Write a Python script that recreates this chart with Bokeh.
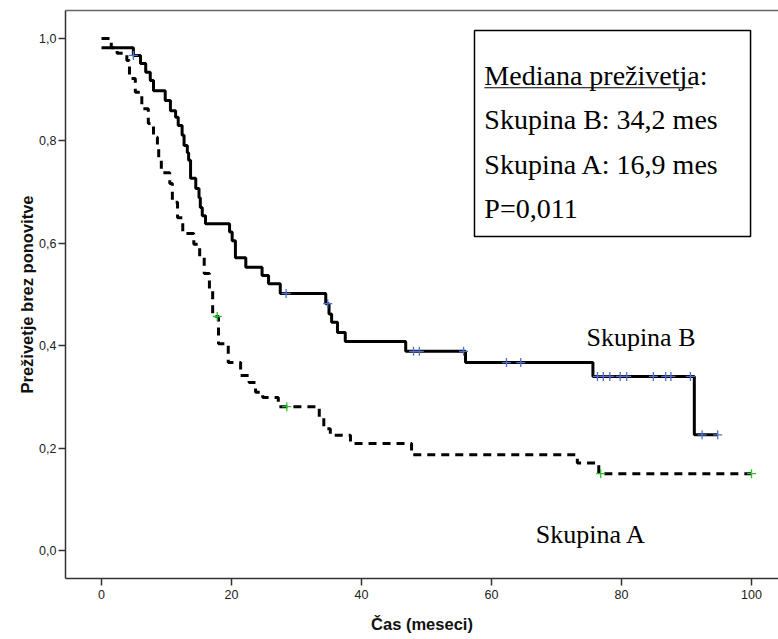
from bokeh.plotting import figure
from bokeh.models import (Range1d, FixedTicker, Label, BoxAnnotation, ColumnDataSource,
                          LinearAxis)
from bokeh.embed import file_html
from bokeh.resources import INLINE

# ---- data ----
# Skupina B (solid): event times (months) and survival after each step
b_time = [0, 4.9, 6.0, 6.8, 7.5, 8.0, 9.8, 10.6, 11.4, 11.8, 12.4, 12.7, 13.2, 13.4,
          13.7, 14.5, 15.0, 15.2, 15.5, 16.0, 19.7, 20.1, 20.6, 22.2, 24.7, 25.7,
          27.5, 34.5, 35.0, 35.4, 36.3, 37.5, 46.8, 56.0, 75.6, 91.2, 94.8]
b_surv = [0.982, 0.967, 0.951, 0.934, 0.918, 0.898, 0.879, 0.859, 0.846, 0.830, 0.811,
          0.791, 0.777, 0.762, 0.727, 0.707, 0.689, 0.670, 0.654, 0.638, 0.622, 0.605,
          0.572, 0.553, 0.537, 0.521, 0.502, 0.482, 0.462, 0.446, 0.426, 0.408, 0.389,
          0.367, 0.340, 0.226, 0.226]
b_cens_time = [4.9, 28.4, 34.8, 48.0, 48.9, 55.7, 62.3, 64.5, 76.3, 77.2, 78.2, 79.8,
               80.8, 84.9, 86.8, 87.6, 90.6, 92.4, 94.8]
b_cens_surv = [0.967, 0.502, 0.482, 0.389, 0.389, 0.389, 0.367, 0.367, 0.340, 0.340,
               0.340, 0.340, 0.340, 0.340, 0.340, 0.340, 0.340, 0.226, 0.226]

# Skupina A (dashed)
a_time = [0, 1.5, 2.4, 3.9, 4.3, 5.2, 6.2, 7.2, 8.0, 8.6, 8.8, 9.2, 10.5, 10.9, 11.7,
          12.5, 14.2, 15.1, 15.8, 16.6, 17.1, 18.0, 19.5, 21.4, 22.7, 23.7, 24.8, 27.2,
          33.5, 34.2, 35.2, 38.3, 47.7, 73.2, 76.5, 100.0]
a_surv = [1.0, 0.982, 0.971, 0.957, 0.922, 0.895, 0.863, 0.834, 0.807, 0.789, 0.762,
          0.738, 0.717, 0.680, 0.650, 0.619, 0.598, 0.572, 0.541, 0.508, 0.457, 0.404,
          0.367, 0.342, 0.328, 0.309, 0.299, 0.281, 0.260, 0.238, 0.225, 0.209, 0.187,
          0.171, 0.150, 0.150]
a_cens_time = [17.8, 28.5, 76.8, 100.0]
a_cens_surv = [0.457, 0.281, 0.150, 0.150]

x_ticks = [0, 20, 40, 60, 80, 100]
y_ticks = [0.0, 0.2, 0.4, 0.6, 0.8, 1.0]
y_tick_labels = ["0,0", "0,2", "0,4", "0,6", "0,8", "1,0"]

x_title = "Čas (meseci)"
y_title = "Preživetje brez ponovitve"
box_lines = ["Mediana preživetja:", "Skupina B: 34,2 mes", "Skupina A: 16,9 mes", "P=0,011"]
label_b = "Skupina B"
label_a = "Skupina A"

BLUE = "#5070cc"
GREEN = "#2dc22d"
AXIS_COL = "#333333"

p = figure(width=778, height=639, output_backend="svg", toolbar_location=None,
           x_range=Range1d(-5.54, 104.15), y_range=Range1d(-0.0547, 1.0547),
           min_border_left=65, min_border_right=0, min_border_top=10, min_border_bottom=61)
p.grid.visible = False
p.outline_line_color = None
p.background_fill_color = "white"
p.border_fill_color = "white"

for ax in (p.xaxis[0], p.yaxis[0]):
    ax.axis_line_color = AXIS_COL
    ax.axis_line_width = 1.5
    ax.major_tick_line_color = AXIS_COL
    ax.major_tick_line_width = 1.5
    ax.major_tick_out = 7
    ax.major_tick_in = 0
    ax.minor_tick_out = 0
    ax.minor_tick_in = 0
    ax.major_label_text_font = "Liberation Sans"
    ax.major_label_text_font_size = "12.5px"
    ax.major_label_text_color = "#222222"
    ax.axis_label_text_font = "Liberation Sans"
    ax.axis_label_text_font_style = "bold"
    ax.axis_label_text_font_size = "16.5px"
    ax.axis_label_text_color = "#111111"

p.xaxis.ticker = FixedTicker(ticks=x_ticks)
p.yaxis.ticker = FixedTicker(ticks=y_ticks)
p.yaxis.major_label_overrides = {v: s for v, s in zip(y_ticks, y_tick_labels)}
p.xaxis.major_label_standoff = 4
p.yaxis.major_label_standoff = 2

p.xaxis.axis_label = x_title
p.xaxis.axis_label_standoff = 13
p.yaxis.axis_label = y_title
p.yaxis.axis_label_standoff = 0

# top frame line (no right edge visible in the reference)
top_ax = LinearAxis(ticker=FixedTicker(ticks=[]), major_label_text_font_size="0px",
                    axis_line_color="#666666", axis_line_width=1.5,
                    major_tick_out=0, minor_tick_out=0, major_tick_in=0, minor_tick_in=0,
                    major_label_standoff=0)
p.add_layout(top_ax, "above")

src_a = ColumnDataSource(dict(t=a_time, s=a_surv))
src_b = ColumnDataSource(dict(t=b_time, s=b_surv))
p.step(x="t", y="s", source=src_a, mode="after", line_color="black", line_width=3,
       line_dash="8 6")
p.step(x="t", y="s", source=src_b, mode="after", line_color="black", line_width=3)
p.scatter(x=b_cens_time, y=b_cens_surv, marker="cross", size=9, line_color=BLUE,
          line_width=1.3)
p.scatter(x=a_cens_time, y=a_cens_surv, marker="cross", size=9, line_color=GREEN,
          line_width=1.3)

# annotation box
p.add_layout(BoxAnnotation(left=57.38, right=99.85, top=1.0156, bottom=0.6133,
                           fill_color="white", fill_alpha=1.0, line_color="black",
                           line_alpha=1.0, line_width=1.5, level="annotation"))
box_y = [0.9277, 0.8418, 0.7539, 0.668]
for txt, yy in zip(box_lines, box_y):
    p.add_layout(Label(x=58.9, y=yy, text=txt, text_font="Liberation Serif",
                       text_font_size="28px", text_color="black",
                       text_baseline="middle", text_align="left"))
# underline of the heading (without the colon)
p.add_layout(BoxAnnotation(left=58.9, right=91.0, top=0.905, bottom=0.9026,
                           fill_color="black", fill_alpha=1.0, line_alpha=0,
                           level="annotation"))

p.add_layout(Label(x=74.6, y=0.416, text=label_b, text_font="Liberation Serif",
                   text_font_size="26px", text_color="black", text_baseline="middle"))
p.add_layout(Label(x=66.8, y=0.031, text=label_a, text_font="Liberation Serif",
                   text_font_size="26px", text_color="black", text_baseline="middle"))

open("out.html", "w").write(file_html(p, INLINE))
